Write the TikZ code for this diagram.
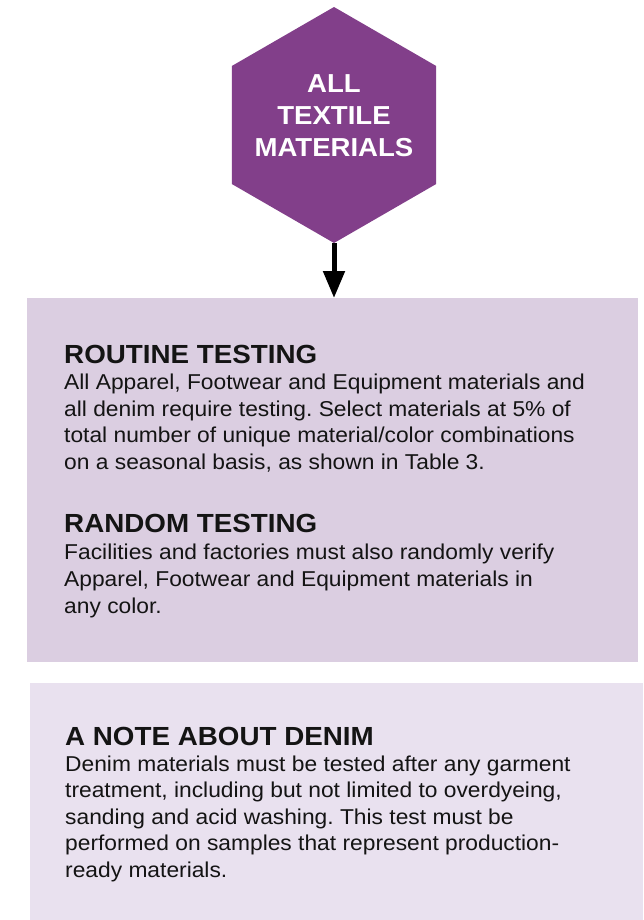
\documentclass[tikz,border=0pt]{standalone}
\usepackage{fontspec}
\setmainfont{Liberation Sans}
\newfontfamily\widesans[FakeStretch=1.06]{Liberation Sans}
\usetikzlibrary{shapes.geometric,arrows.meta}
\definecolor{hexcol}{RGB}{130,63,138}
\definecolor{boxa}{RGB}{219,206,225}
\definecolor{boxb}{RGB}{233,225,239}
\definecolor{ink}{RGB}{20,20,20}
\frenchspacing
\tikzset{
  hexshape/.style={regular polygon, regular polygon sides=6, regular polygon rotate=30,
    minimum size=236pt, inner sep=0pt, fill=hexcol, draw=none},
  hextext/.style={text=white, font=\widesans\fontsize{26}{30}\selectfont\bfseries, anchor=base, inner sep=0pt},
  panel/.style={anchor=north west, inner sep=0pt, draw=none},
  heading/.style={text=ink, font=\widesans\fontsize{26.2}{30}\selectfont\bfseries, anchor=base west, inner sep=0pt},
  bodyline/.style={text=ink, font=\widesans\fontsize{21.5}{25}\selectfont, anchor=base west, inner sep=0pt},
  flowarrow/.style={line width=5pt, -{Triangle[width=21pt,length=27pt]}}
}
\begin{document}
\begin{tikzpicture}[x=1pt,y=-1pt]
\useasboundingbox (0,0) rectangle (643,920);
% panels
\node[panel, fill=boxa, minimum width=611pt, minimum height=364pt] (box1) at (27,298) {};
\node[panel, fill=boxb, minimum width=613pt, minimum height=240pt] (box2) at (30,683) {};
% hexagon
\node[hexshape] (hex) at (334,125) {};
\node[hextext] (h1) at (334,93) {ALL};
\node[hextext] (h2) at (334,125) {TEXTILE};
\node[hextext] (h3) at (334,157) {MATERIALS};
% arrow
\draw[flowarrow] (hex.south) -- (hex.south |- box1.north);
% routine testing
\node[heading] (rt) at (64,363) {ROUTINE TESTING};
\foreach [count=\i] \t in {{All Apparel, Footwear and Equipment materials and},
  {all denim require testing. Select materials at 5\% of},
  {total number of unique material/color combinations},
  {on a seasonal basis, as shown in Table 3.}}
  \node[bodyline] (rtl\i) at (64,363+26.5*\i) {\t};
% random testing
\node[heading] (rd) at (64,532) {RANDOM TESTING};
\foreach [count=\i] \t in {{Facilities and factories must also randomly verify},
  {Apparel, Footwear and Equipment materials in},
  {any color.}}
  \node[bodyline] (rdl\i) at (64,532+27*\i) {\t};
% note about denim
\node[heading] (nd) at (65,745) {A NOTE ABOUT DENIM};
\foreach [count=\i] \t in {{Denim materials must be tested after any garment},
  {treatment, including but not limited to overdyeing,},
  {sanding and acid washing. This test must be},
  {performed on samples that represent production-},
  {ready materials.}}
  \node[bodyline] (ndl\i) at (65,745+26.4*\i) {\t};
\end{tikzpicture}
\end{document}
